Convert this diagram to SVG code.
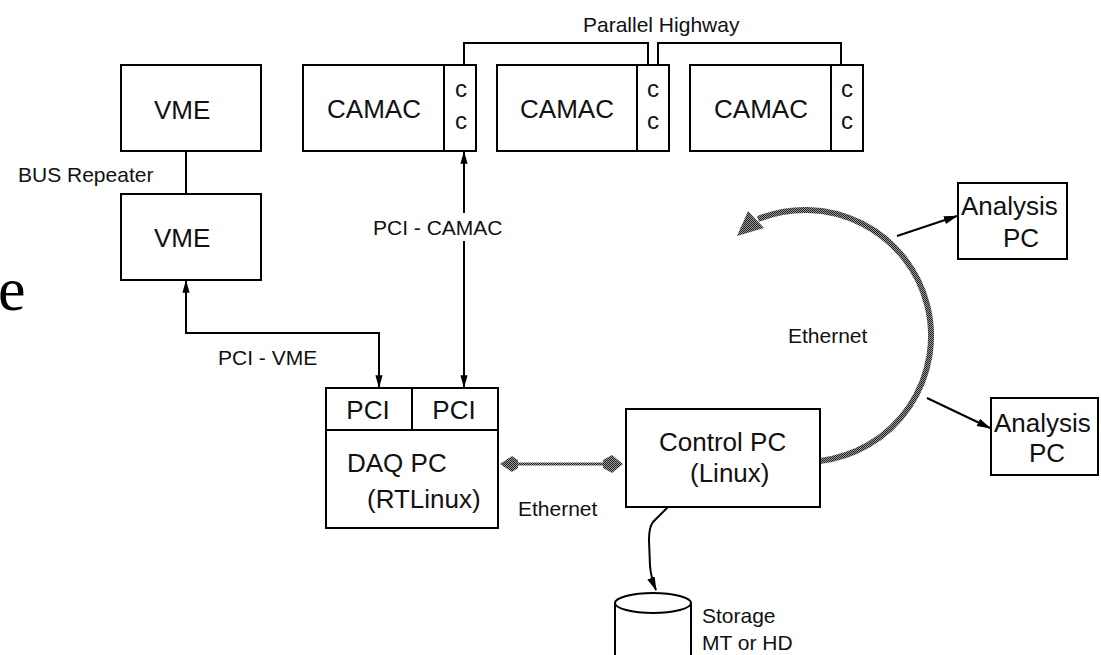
<svg xmlns="http://www.w3.org/2000/svg" width="1101" height="655" viewBox="0 0 1101 655">
  <defs>
    <style>
      .box { fill: #fff; stroke: #000; stroke-width: 2; }
      .div { stroke: #000; stroke-width: 2; fill: none; }
      .wire { stroke: #000; stroke-width: 2; fill: none; }
      .big { font-family: "Liberation Sans", Arial, sans-serif; font-size: 26px; fill: #111; }
      .lbl { font-family: "Liberation Sans", Arial, sans-serif; font-size: 21px; fill: #111; }
      .cc { font-family: "Liberation Sans", Arial, sans-serif; font-size: 24px; fill: #111; }
      .net { stroke: url(#dither); fill: none; }
    </style>
    <!-- checkered fill used for the Ethernet links -->
    <pattern id="dither" width="2" height="2" patternUnits="userSpaceOnUse">
      <rect width="2" height="2" fill="#9a9a9a"/>
      <rect width="1" height="1" fill="#222"/>
      <rect x="1" y="1" width="1" height="1" fill="#222"/>
    </pattern>
    <marker id="head" viewBox="0 0 14 10" refX="13" refY="5" markerWidth="14" markerHeight="10" markerUnits="userSpaceOnUse" orient="auto-start-reverse">
      <path d="M0,1 L14,5 L0,9 z" fill="#000"/>
    </marker>
    <marker id="headSm" viewBox="0 0 14 10" refX="13" refY="5" markerWidth="13" markerHeight="9" markerUnits="userSpaceOnUse" orient="auto-start-reverse">
      <path d="M0,1 L14,5 L0,9 z" fill="#000"/>
    </marker>
  </defs>

  <rect width="1101" height="655" fill="#fff"/>

  <!-- partial heading letter at the left edge -->
  <text x="-2" y="310" font-family="'Liberation Serif', 'Times New Roman', serif" font-size="62" fill="#000">e</text>

  <!-- connectors -->
  <g id="connectors">
    <!-- VME bus repeater -->
    <line class="wire" x1="186" y1="151" x2="186" y2="194"/>
    <!-- parallel highway -->
    <polyline class="wire" points="464,65 464,43 648,43 648,65"/>
    <polyline class="wire" points="658,65 658,43 841,43 841,65"/>
    <!-- PCI - VME -->
    <path class="wire" d="M186,281 L186,333 L379,333 L379,387" marker-start="url(#headSm)" marker-end="url(#headSm)"/>
    <!-- PCI - CAMAC -->
    <line class="wire" x1="464" y1="152" x2="464" y2="213" marker-start="url(#headSm)"/>
    <line class="wire" x1="464" y1="241" x2="464" y2="387" marker-end="url(#headSm)"/>
    <!-- DAQ PC <-> Control PC Ethernet -->
    <line class="net" stroke-width="3" x1="512" y1="464" x2="608" y2="464"/>
    <polygon points="500,464 512,456 518,460 518,468 512,472" fill="url(#dither)"/>
    <polygon points="623,464 612,455 603,460 603,468 612,473" fill="url(#dither)"/>
    <!-- Ethernet ring -->
    <path class="net" stroke-width="6" d="M820,461 A126,126 0 1 0 758,219"/>
    <polygon points="748,211 737,236 764,228" fill="url(#dither)"/>
    <!-- ring taps to analysis PCs -->
    <line class="wire" x1="897" y1="236" x2="957" y2="216" marker-end="url(#head)"/>
    <line class="wire" x1="927" y1="398" x2="990" y2="428" marker-end="url(#head)"/>
    <!-- Control PC to storage -->
    <path class="wire" d="M668,507 L653,522 Q649,527 649,540 L650,566 Q651,578 656,590" marker-end="url(#head)"/>
  </g>

  <!-- labels on connectors -->
  <text class="lbl" x="18" y="182">BUS Repeater</text>
  <text class="lbl" x="583" y="32">Parallel Highway</text>
  <text class="lbl" x="373" y="235">PCI - CAMAC</text>
  <text class="lbl" x="218" y="365">PCI - VME</text>
  <text class="lbl" x="518" y="516">Ethernet</text>
  <text class="lbl" x="788" y="343">Ethernet</text>

  <g id="vme-1">
    <rect class="box" x="121" y="65" width="140" height="86"/>
    <text class="big" x="154" y="119">VME</text>
  </g>
  <g id="vme-2">
    <rect class="box" x="121" y="194" width="140" height="86"/>
    <text class="big" x="154" y="247">VME</text>
  </g>

  <g id="camac-1">
    <rect class="box" x="303" y="65" width="173" height="86"/>
    <line class="div" x1="444" y1="65" x2="444" y2="151"/>
    <text class="big" x="374" y="118" text-anchor="middle">CAMAC</text>
    <text class="cc" x="461" y="97" text-anchor="middle">c</text>
    <text class="cc" x="461" y="129" text-anchor="middle">c</text>
  </g>
  <g id="camac-2">
    <rect class="box" x="497" y="65" width="172" height="86"/>
    <line class="div" x1="637" y1="65" x2="637" y2="151"/>
    <text class="big" x="567" y="118" text-anchor="middle">CAMAC</text>
    <text class="cc" x="653" y="97" text-anchor="middle">c</text>
    <text class="cc" x="653" y="129" text-anchor="middle">c</text>
  </g>
  <g id="camac-3">
    <rect class="box" x="690" y="65" width="173" height="86"/>
    <line class="div" x1="831" y1="65" x2="831" y2="151"/>
    <text class="big" x="761" y="118" text-anchor="middle">CAMAC</text>
    <text class="cc" x="847" y="97" text-anchor="middle">c</text>
    <text class="cc" x="847" y="129" text-anchor="middle">c</text>
  </g>

  <g id="daq-pc">
    <rect class="box" x="326" y="388" width="172" height="140"/>
    <line class="div" x1="326" y1="430" x2="498" y2="430"/>
    <line class="div" x1="412" y1="388" x2="412" y2="430"/>
    <text class="big" x="368" y="419" text-anchor="middle">PCI</text>
    <text class="big" x="454" y="419" text-anchor="middle">PCI</text>
    <text class="big" x="347" y="472">DAQ PC</text>
    <text class="big" x="367" y="508">(RTLinux)</text>
  </g>

  <g id="control-pc">
    <rect class="box" x="626" y="409" width="194" height="98"/>
    <text class="big" x="659" y="451">Control PC</text>
    <text class="big" x="690" y="482">(Linux)</text>
  </g>

  <g id="analysis-pc-1">
    <rect class="box" x="958" y="183" width="109" height="76"/>
    <text class="big" x="961" y="215">Analysis</text>
    <text class="big" x="1003" y="247">PC</text>
  </g>
  <g id="analysis-pc-2">
    <rect class="box" x="991" y="398" width="107" height="77"/>
    <text class="big" x="994" y="432">Analysis</text>
    <text class="big" x="1029" y="462">PC</text>
  </g>

  <g id="storage">
    <path class="box" d="M615,603 L615,662 L691,662 L691,603"/>
    <ellipse class="box" cx="653" cy="603" rx="38" ry="10"/>
    <text class="lbl" x="702" y="623">Storage</text>
    <text class="lbl" x="702" y="650">MT or HD</text>
  </g>
</svg>
